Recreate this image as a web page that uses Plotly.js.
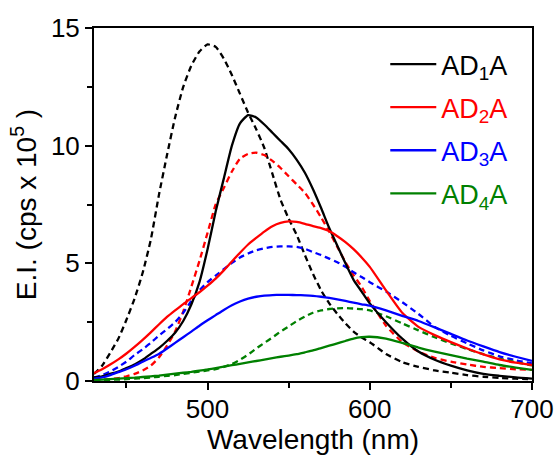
<!DOCTYPE html>
<html>
<head>
<meta charset="utf-8">
<script src="https://cdn.plot.ly/plotly-3.0.1.min.js"></script>
<style>
  html, body { margin: 0; padding: 0; background: #fff; }
  #chart { width: 560px; height: 455px; }
</style>
</head>
<body>
<div id="chart"></div>
<script>
// Wavelength grid (nm)
const wavelength = [430,435,440,445,450,455,460,465,470,475,480,485,490,495,500,505,510,515,520,525,530,535,540,545,550,555,560,565,570,575,580,585,590,595,600,610,620,630,640,650,660,670,680,690,700];

// Series names and colours
const seriesNames = ["AD<sub>1</sub>A", "AD<sub>2</sub>A", "AD<sub>3</sub>A", "AD<sub>4</sub>A"];
const seriesColors = ["#000000", "#ff0000", "#0000ff", "#008000"];

// Solid curves (E.I., cps x 10^5)
const ad1Solid = [0.15,0.2,0.3,0.4,0.55,0.7,0.9,1.15,1.4,1.7,2.05,2.55,3.25,4.2,5.6,7.2,8.6,10.0,10.95,11.3,11.2,10.9,10.55,10.2,9.85,9.4,8.85,8.15,7.35,6.5,5.75,5.0,4.3,3.8,3.3,2.5,1.8,1.25,0.9,0.65,0.45,0.3,0.22,0.15,0.1];
const ad2Solid = [0.33,0.5,0.7,0.92,1.17,1.45,1.75,2.07,2.4,2.72,3.0,3.27,3.52,3.77,4.05,4.35,4.7,5.08,5.45,5.8,6.08,6.35,6.58,6.72,6.78,6.76,6.68,6.58,6.5,6.37,6.15,5.9,5.6,5.25,4.85,3.85,2.9,2.3,1.95,1.65,1.38,1.13,0.92,0.78,0.68];
const ad3Solid = [0.1,0.15,0.25,0.38,0.5,0.65,0.82,0.98,1.15,1.38,1.62,1.86,2.1,2.35,2.58,2.8,3.02,3.22,3.38,3.5,3.58,3.63,3.65,3.66,3.66,3.65,3.64,3.62,3.58,3.53,3.47,3.4,3.33,3.26,3.2,3.0,2.77,2.55,2.28,2.0,1.72,1.47,1.23,1.03,0.85];
const ad4Solid = [0.05,0.06,0.08,0.1,0.12,0.14,0.17,0.2,0.23,0.27,0.31,0.35,0.39,0.44,0.49,0.55,0.61,0.67,0.73,0.79,0.85,0.91,0.97,1.03,1.08,1.14,1.22,1.3,1.4,1.5,1.6,1.7,1.8,1.86,1.88,1.8,1.62,1.42,1.25,1.1,0.95,0.82,0.68,0.57,0.47];

// Dashed curves
const ad1Dashed = [0.3,0.65,1.2,1.8,2.6,3.5,4.6,6.0,7.9,9.6,11.2,12.5,13.4,14.0,14.3,14.2,13.7,13.0,12.2,11.4,10.7,9.9,8.8,7.7,6.9,6.2,5.35,4.55,3.85,3.3,2.85,2.45,2.1,1.85,1.65,1.15,0.8,0.6,0.45,0.35,0.25,0.18,0.13,0.1,0.08];
const ad2Dashed = [0.05,0.05,0.08,0.12,0.2,0.3,0.45,0.65,1.0,1.5,2.1,2.95,4.0,5.1,6.3,7.5,8.2,8.9,9.45,9.65,9.7,9.6,9.35,9.05,8.7,8.35,8.0,7.5,6.95,6.35,5.7,5.05,4.5,4.0,3.4,2.35,1.65,1.25,0.98,0.82,0.7,0.6,0.55,0.5,0.47];
const ad3Dashed = [0.15,0.25,0.4,0.6,0.82,1.1,1.35,1.62,1.93,2.2,2.5,2.9,3.4,3.85,4.2,4.48,4.75,5.02,5.25,5.42,5.55,5.64,5.7,5.72,5.72,5.7,5.62,5.48,5.35,5.2,5.05,4.85,4.62,4.42,4.2,3.8,3.35,2.85,2.3,1.92,1.6,1.3,1.05,0.88,0.75];
const ad4Dashed = [0.05,0.05,0.05,0.06,0.08,0.1,0.12,0.15,0.18,0.22,0.25,0.3,0.35,0.4,0.45,0.5,0.6,0.72,0.9,1.12,1.38,1.62,1.85,2.1,2.32,2.55,2.74,2.9,3.0,3.06,3.09,3.1,3.08,3.05,3.0,2.75,2.45,2.15,1.86,1.6,1.36,1.14,0.95,0.8,0.66];

// Axis ticks
const xTickVals = [500, 600, 700];
const yTickVals = [0, 5, 10, 15];

const solidSeries = [ad1Solid, ad2Solid, ad3Solid, ad4Solid];
const dashedSeries = [ad1Dashed, ad2Dashed, ad3Dashed, ad4Dashed];

const FONT = "Liberation Sans, Arial, sans-serif";
const NB = "\u00A0";
const traces = [];
// dashed first (drawn underneath)
dashedSeries.forEach((ys, i) => {
  traces.push({
    x: wavelength, y: ys, type: "scatter", mode: "lines",
    line: { color: seriesColors[i], width: 2.3, dash: "6px,4px", shape: "spline", smoothing: 0.5 },
    showlegend: false, hoverinfo: "skip"
  });
});
solidSeries.forEach((ys, i) => {
  traces.push({
    x: wavelength, y: ys, type: "scatter", mode: "lines",
    name: '<span style="color:' + seriesColors[i] + '">' + seriesNames[i] + '</span>',
    legendgroup: "g" + i,
    line: { color: seriesColors[i], width: 2.3, shape: "spline", smoothing: 0.5 },
    showlegend: true
  });
});

const layout = {
  width: 560, height: 455,
  margin: { l: 94, r: 28, t: 28, b: 74, pad: 0 },
  paper_bgcolor: "#ffffff", plot_bgcolor: "#ffffff",
  font: { family: FONT, color: "#000000", size: 26 },
  showlegend: true,
  legend: {
    x: 0.665, y: 0.966, xanchor: "left", yanchor: "top",
    bgcolor: "rgba(0,0,0,0)", borderwidth: 0,
    font: { family: FONT, size: 27 },
    tracegroupgap: 5, itemwidth: 46
  },
  xaxis: {
    range: [430, 700], tickvals: xTickVals, ticktext: xTickVals.map(String),
    showgrid: false, zeroline: false,
    showline: true, linecolor: "#000", linewidth: 2, mirror: true,
    ticks: "outside", ticklen: 7, tickwidth: 2, tickcolor: "#000",
    ticklabelstandoff: -3,
    tickfont: { family: FONT, size: 26, color: "#000" },
    minor: { tickvals: [450, 550, 650], ticks: "outside", ticklen: 5, tickwidth: 2, tickcolor: "#000", showgrid: false },
    title: { text: NB + NB + NB + "Wavelength (nm)", font: { family: FONT, size: 28, color: "#000" }, standoff: 12 },
    automargin: false
  },
  yaxis: {
    range: [0, 15], tickvals: yTickVals, ticktext: yTickVals.map(String),
    showgrid: false, zeroline: false,
    showline: true, linecolor: "#000", linewidth: 2, mirror: true,
    ticks: "outside", ticklen: 7, tickwidth: 2, tickcolor: "#000",
    tickfont: { family: FONT, size: 26, color: "#000" },
    minor: { tickvals: [2.5, 7.5, 12.5], ticks: "outside", ticklen: 5, tickwidth: 2, tickcolor: "#000", showgrid: false },
    title: { text: NB + NB + NB + "E.I. (cps x 10<sup>5</sup> )", font: { family: FONT, size: 28, color: "#000" }, standoff: 6 },
    automargin: false
  }
};

Plotly.newPlot("chart", traces, layout, { staticPlot: true, displayModeBar: false });
</script>
</body>
</html>
